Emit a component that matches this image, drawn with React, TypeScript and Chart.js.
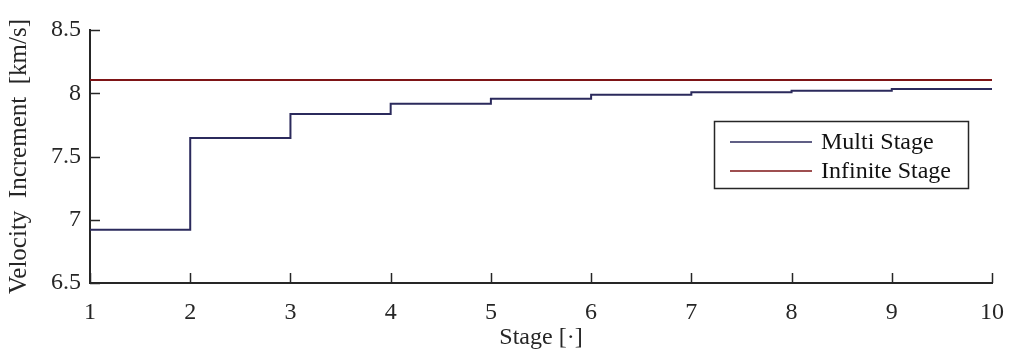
import React, { useEffect, useRef } from 'react';
import { Chart, registerables } from 'chart.js';

Chart.register(...registerables);

const stages = [1, 2, 3, 4, 5, 6, 7, 8, 9, 10];
const multiStage = [6.92, 7.646, 7.836, 7.917, 7.957, 7.989, 8.008, 8.02, 8.033, 8.042];
const infiniteStageX = [1, 10];
const infiniteStageY = [8.105, 8.105];
const xTicks = [1, 2, 3, 4, 5, 6, 7, 8, 9, 10];
const yTicks = [6.5, 7, 7.5, 8, 8.5];
const seriesLabels = ['Multi Stage', 'Infinite Stage'];
const xTitle = 'Stage [·]';
const yTitle = 'Velocity  Increment  [km/s]';

const FONT = "'Liberation Serif', serif";
const SIZE = 24;
const AXIS = '#262626';
const BLUE = '#2b2a5c';
const RED = '#7e1416';

const innerTicks = {
  id: 'innerTicks',
  afterDraw(chart: any) {
    const { ctx, chartArea, scales } = chart;
    ctx.save();
    ctx.strokeStyle = AXIS;
    ctx.lineWidth = 1.5;
    const xs = scales.x;
    const ys = scales.y;
    xTicks.forEach((v) => {
      const px = Math.round(xs.getPixelForValue(v)) + 0.5;
      ctx.beginPath();
      ctx.moveTo(px, chartArea.bottom);
      ctx.lineTo(px, chartArea.bottom - 10);
      ctx.stroke();
    });
    yTicks.forEach((v) => {
      const py = Math.round(ys.getPixelForValue(v)) + 0.5;
      ctx.beginPath();
      ctx.moveTo(chartArea.left, py);
      ctx.lineTo(chartArea.left + 10, py);
      ctx.stroke();
    });
    ctx.restore();
  },
};

const boxLegend = {
  id: 'boxLegend',
  afterDraw(chart: any) {
    const { ctx } = chart;
    const left = 714.5, top = 121.5, w = 254, h = 67;
    ctx.save();
    ctx.fillStyle = '#ffffff';
    ctx.fillRect(left, top, w, h);
    ctx.strokeStyle = AXIS;
    ctx.lineWidth = 1.5;
    ctx.strokeRect(left, top, w, h);
    ctx.font = `${SIZE}px ${FONT}`;
    ctx.textBaseline = 'middle';
    ctx.textAlign = 'left';
    chart.data.datasets.forEach((ds: any, i: number) => {
      const y = 142 + i * 29;
      ctx.strokeStyle = ds.borderColor;
      ctx.lineWidth = 1.5;
      ctx.beginPath();
      ctx.moveTo(730, y);
      ctx.lineTo(812, y);
      ctx.stroke();
      ctx.fillStyle = '#111111';
      ctx.fillText(ds.label, 821, y + 1);
    });
    ctx.restore();
  },
};

export default function App() {
  const ref = useRef<HTMLCanvasElement>(null);

  useEffect(() => {
    document.body.style.margin = '0';
    const canvas = ref.current!;
    const chart = new Chart(canvas, {
      type: 'line',
      data: {
        datasets: [
          {
            label: seriesLabels[0],
            data: stages.map((s, i) => ({ x: s, y: multiStage[i] })),
            borderColor: BLUE,
            borderWidth: 2,
            pointRadius: 0,
            stepped: 'before',
            fill: false,
          },
          {
            label: seriesLabels[1],
            data: infiniteStageX.map((s, i) => ({ x: s, y: infiniteStageY[i] })),
            borderColor: RED,
            borderWidth: 2,
            pointRadius: 0,
            fill: false,
          },
        ],
      },
      options: {
        animation: false,
        responsive: false,
        events: [],
        layout: { padding: { top: 30, right: 18, left: 0, bottom: 0 } },
        plugins: { legend: { display: false }, tooltip: { enabled: false } },
        scales: {
          x: {
            type: 'linear',
            min: 1,
            max: 10,
            afterFit: (s: any) => { s.height = 69; s.paddingLeft = 0; s.paddingRight = 0; },
            afterBuildTicks: (s: any) => { s.ticks = xTicks.map((v) => ({ value: v })); },
            grid: { display: false, drawTicks: false },
            border: { display: true, color: AXIS, width: 2 },
            ticks: { color: '#262626', font: { family: FONT, size: SIZE }, padding: 15, maxRotation: 0, callback: (v: any) => String(v) },
            title: { display: true, text: xTitle, color: '#262626', font: { family: FONT, size: SIZE }, padding: { top: 0, bottom: 0 } },
          },
          y: {
            type: 'linear',
            min: 6.5,
            max: 8.5,
            afterFit: (s: any) => { s.width = 90; s.paddingTop = 0; s.paddingBottom = 0; },
            afterBuildTicks: (s: any) => { s.ticks = yTicks.map((v) => ({ value: v })); },
            grid: { display: false, drawTicks: false },
            border: { display: true, color: AXIS, width: 2 },
            ticks: { color: '#262626', font: { family: FONT, size: SIZE }, padding: 9, callback: (v: any) => String(v) },
            title: { display: true, text: yTitle, color: '#262626', font: { family: FONT, size: SIZE + 1 }, padding: { top: 4, bottom: 0 } },
          },
        },
      },
      plugins: [innerTicks, boxLegend],
    });
    return () => chart.destroy();
  }, []);

  return (
    <div style={{ position: 'absolute', left: 0, top: 0, width: 1010, height: 352 }}>
      <canvas ref={ref} width={1010} height={352} style={{ display: 'block' }} />
    </div>
  );
}
